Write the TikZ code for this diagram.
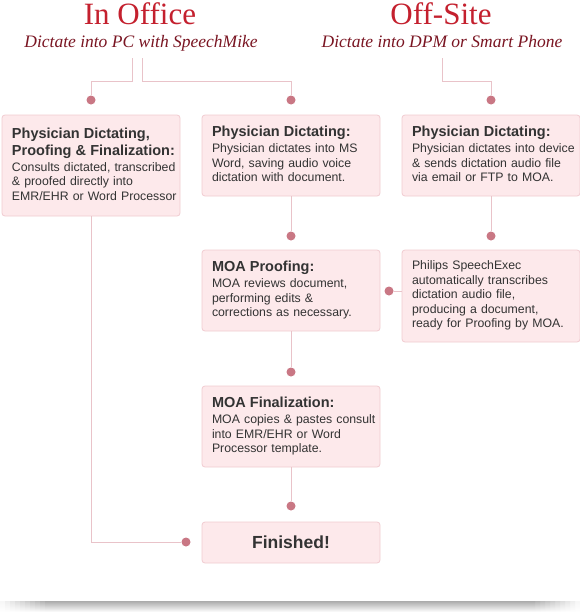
\documentclass[tikz,border=0pt]{standalone}
\usepackage{fontspec}
\setmainfont{Liberation Serif}
\setsansfont{Liberation Sans}
\usetikzlibrary{positioning}

\definecolor{titlered}{HTML}{C4202E}
\definecolor{subred}{HTML}{7A1522}
\definecolor{linkpink}{HTML}{E9C3C9}
\definecolor{dotred}{HTML}{C97784}
\definecolor{boxfill}{HTML}{FDE9EB}
\definecolor{boxline}{HTML}{F1CCD1}
\definecolor{boxtext}{HTML}{333333}

\newcommand{\boxhead}[1]{{\fontsize{14.5}{17}\selectfont\bfseries\begin{tabular}[t]{@{}l@{}}#1\end{tabular}\par}}
\newcommand{\boxbody}[1]{\begin{tabular}[t]{@{}l@{}}#1\end{tabular}}

\begin{document}
\begin{tikzpicture}[x=1pt, y=-1pt,
    title/.style={anchor=base, inner sep=0pt, text=titlered, font=\fontsize{31}{31}\selectfont},
    subtitle/.style={anchor=base, inner sep=0pt, text=subred, font=\itshape\fontsize{17.5}{17.5}\selectfont},
    stage/.style={draw=boxline, fill=boxfill, line width=0.8pt, rounded corners=3pt,
        text=boxtext, font=\sffamily\fontsize{12.3}{14.5}\selectfont,
        text width=158pt, inner xsep=10pt, inner ysep=0pt, minimum height=81pt, align=left},
    dot/.style={circle, fill=dotred, inner sep=0pt, minimum size=9pt},
    link/.style={draw=linkpink, line width=0.9pt}]

        \fill[white] (0,0) rectangle (580,613);
        \useasboundingbox (0,0) rectangle (580,613);

        % Headings for the two ways of dictating
        \node[title] (office) at (140,24) {In Office};
        \node[subtitle] (officesub) at (141,47) {Dictate into PC with SpeechMike};
        \node[title] (offsite) at (441,24) {Off-Site};
        \node[subtitle] (offsitesub) at (442,47) {Dictate into DPM or Smart Phone};

        % Branch points below the headings
        \coordinate (officeL) at (132,58);
        \coordinate (officeR) at (142,58);
        \coordinate (offsiteC) at (442,58);

        % Dots where the connectors end
        \node[dot] (dotL) at (91,100) {};
        \node[dot] (dotM) at (291,100) {};
        \node[dot] (dotR) at (491,100) {};
        \node[dot] (dotProof) at (291,236) {};
        \node[dot] (dotTrans) at (491,236) {};
        \node[dot] (dotSide) at (389,291) {};
        \node[dot] (dotFinal) at (291,372) {};
        \node[dot] (dotFin) at (291,506) {};
        \node[dot] (dotEnd) at (186,542) {};

        % Stage boxes
        \node[stage, minimum height=101pt] (physL) at (91,165.5) {\boxhead{Physician Dictating,\\Proofing \& Finalization:}\boxbody{Consults dictated, transcribed\\\& proofed directly into\\EMR/EHR or Word Processor}};
        \node[stage] (physM) at (291,155.5) {\boxhead{Physician Dictating:}\boxbody{Physician dictates into MS\\Word, saving audio voice\\dictation with document.}};
        \node[stage] (physR) at (491,155.5) {\boxhead{Physician Dictating:}\boxbody{Physician dictates into device\\\& sends dictation audio file\\via email or FTP to MOA.}};
        \node[stage] (proof) at (291,290.5) {\boxhead{MOA Proofing:}\boxbody{MOA reviews document,\\performing edits \&\\corrections as necessary.}};
        \node[stage, minimum height=92pt] (trans) at (491,296) {\boxbody{Philips SpeechExec\\automatically transcribes\\dictation audio file,\\producing a document,\\ready for Proofing by MOA.}};
        \node[stage] (final) at (291,426.5) {\boxhead{MOA Finalization:}\boxbody{MOA copies \& pastes consult\\into EMR/EHR or Word\\Processor template.}};
        \node[stage, minimum height=41pt, align=center, font=\sffamily\bfseries\fontsize{17.5}{20}\selectfont] (finished) at (291,542.5) {Finished!};

        % Connectors
        \draw[link] (officeL) -- ++(0,23) -| (dotL);
        \draw[link] (officeR) -- ++(0,23) -| (dotM);
        \draw[link] (offsiteC) -- ++(0,23) -| (dotR);
        \draw[link] (physM) -- (dotProof);
        \draw[link] (physR) -- (dotTrans);
        \draw[link] (trans.west |- dotSide) -- (dotSide);
        \draw[link] (proof) -- (dotFinal);
        \draw[link] (final) -- (dotFin);
        \draw[link] (physL) |- (dotEnd);

        % Shadow along the bottom, fading out at both ends
        \shade[top color=black!33, bottom color=white] (50,601) rectangle (530,612);
        \foreach \i [evaluate=\i as \tone using 3.3*\i] in {1,...,10} {
            \shade[top color=black!\tone, bottom color=white] (5*\i-5,601) rectangle (5*\i,612);
            \shade[top color=black!\tone, bottom color=white] (585-5*\i,601) rectangle (580-5*\i,612);
        }
    \end{tikzpicture}
\end{document}
